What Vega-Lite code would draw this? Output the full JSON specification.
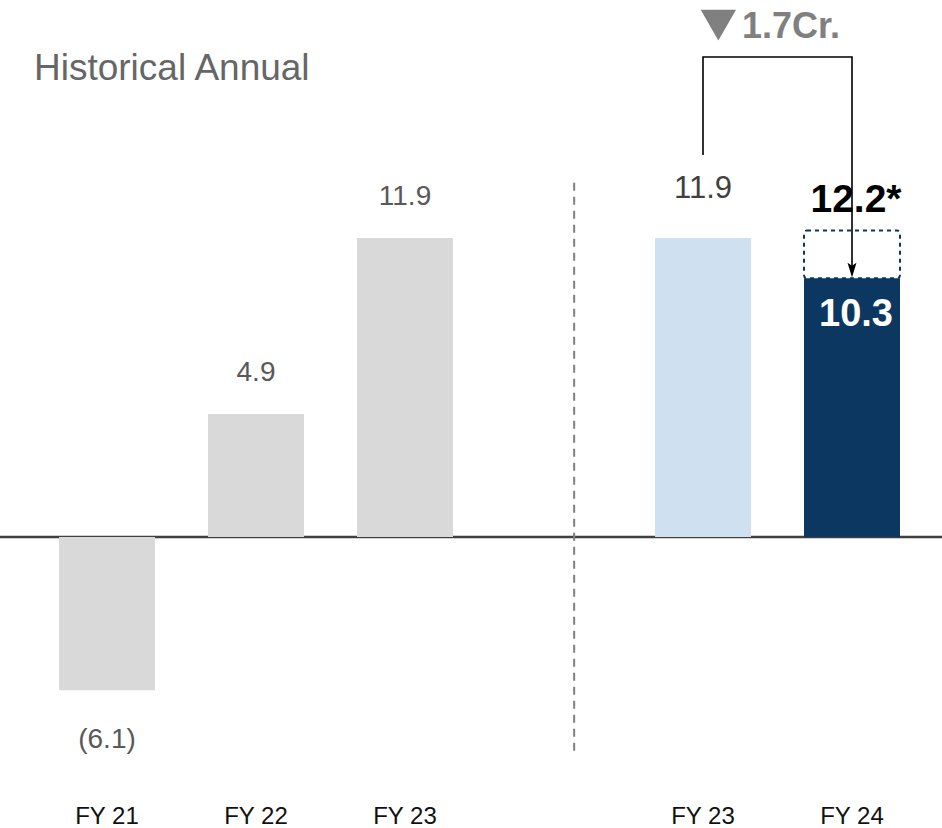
{
  "$schema": "https://vega.github.io/schema/vega-lite/v6.json",
  "width": 942,
  "height": 770,
  "autosize": {"type": "none"},
  "padding": {"left": 0, "right": 0, "top": 0, "bottom": 58},
  "background": "white",
  "config": {
    "view": {"stroke": null},
    "font": "Liberation Sans",
    "text": {"font": "Liberation Sans"}
  },
  "datasets": {
    "bars": [
      {"cat": "FY21", "value": -6.1, "kind": "hist"},
      {"cat": "FY22", "value": 4.9, "kind": "hist"},
      {"cat": "FY23a", "value": 11.9, "kind": "hist"},
      {"cat": "FY23b", "value": 11.9, "kind": "prior"},
      {"cat": "FY24", "value": 10.3, "kind": "current"}
    ],
    "labels": [
      {"cat": "FY21", "value": -6.1, "label": "(6.1)", "style": "neg"},
      {"cat": "FY22", "value": 4.9, "label": "4.9", "style": "hist"},
      {"cat": "FY23a", "value": 11.9, "label": "11.9", "style": "hist"},
      {"cat": "FY23b", "value": 11.9, "label": "11.9", "style": "prior"},
      {"cat": "FY24", "value": 12.2, "label": "12.2*", "style": "target"},
      {"cat": "FY24", "value": 10.3, "label": "10.3", "style": "inside"}
    ],
    "bracket": [
      {"cat": "FY23b", "y": 15.2, "seq": 1},
      {"cat": "FY23b", "y": 19.1, "seq": 2},
      {"cat": "FY24", "y": 19.1, "seq": 3},
      {"cat": "FY24", "y": 10.7, "seq": 4}
    ]
  },
  "encoding": {
    "x": {
      "field": "cat",
      "type": "nominal",
      "sort": null,
      "scale": {
        "type": "band",
        "domain": ["FY21", "FY22", "FY23a", "sep", "FY23b", "FY24"],
        "range": [59, 900],
        "paddingInner": 0.3557,
        "paddingOuter": 0
      },
      "axis": {
        "title": null,
        "domain": false,
        "ticks": false,
        "tickSize": 0,
        "grid": false,
        "labelAngle": 0,
        "labelFontSize": 24,
        "labelColor": "#111111",
        "labelFont": "Liberation Sans",
        "labelPadding": 34,
        "labelExpr": "datum.value == 'sep' ? '' : 'FY ' + substring(datum.value, 2, 4)"
      }
    }
  },
  "layer": [
    {
      "data": {"values": [{"v": 0}]},
      "mark": {"type": "rule", "color": "#404040", "strokeWidth": 2.5},
      "encoding": {
        "x": null,
        "y": {"field": "v", "type": "quantitative", "scale": {"domain": [-9.27, 21.37], "nice": false, "zero": false}, "axis": null}
      }
    },
    {
      "data": {"values": [{"cat": "sep", "y1": 14.1, "y2": -8.5}]},
      "mark": {"type": "rule", "color": "#808080", "strokeWidth": 2, "strokeDash": [8, 6]},
      "encoding": {
        "x": {"field": "cat", "type": "nominal", "bandPosition": 0.71},
        "y": {"field": "y1", "type": "quantitative"},
        "y2": {"field": "y2"}
      }
    },
    {
      "data": {"name": "bars"},
      "mark": {"type": "bar"},
      "encoding": {
        "y": {"field": "value", "type": "quantitative"},
        "color": {
          "field": "kind",
          "type": "nominal",
          "scale": {"domain": ["hist", "prior", "current"], "range": ["#d9d9d9", "#cfe0f1", "#0b3761"]},
          "legend": null
        }
      }
    },
    {
      "data": {"values": [{"cat": "FY24", "top": 12.2, "bottom": 10.3}]},
      "mark": {"type": "bar", "fillOpacity": 0, "stroke": "#0b3761", "strokeWidth": 2, "strokeDash": [4, 4], "cornerRadius": 3},
      "encoding": {
        "y": {"field": "top", "type": "quantitative"},
        "y2": {"field": "bottom"}
      }
    },
    {
      "data": {"name": "labels"},
      "transform": [{"filter": "datum.style == 'hist'"}],
      "mark": {"type": "text", "fontSize": 28, "color": "#595959", "baseline": "alphabetic", "dy": -33},
      "encoding": {
        "y": {"field": "value", "type": "quantitative"},
        "text": {"field": "label"}
      }
    },
    {
      "data": {"name": "labels"},
      "transform": [{"filter": "datum.style == 'neg'"}],
      "mark": {"type": "text", "fontSize": 28, "color": "#595959", "baseline": "alphabetic", "dy": 58},
      "encoding": {
        "y": {"field": "value", "type": "quantitative"},
        "text": {"field": "label"}
      }
    },
    {
      "data": {"name": "labels"},
      "transform": [{"filter": "datum.style == 'prior'"}],
      "mark": {"type": "text", "fontSize": 31, "color": "#404040", "baseline": "alphabetic", "dy": -40},
      "encoding": {
        "y": {"field": "value", "type": "quantitative"},
        "text": {"field": "label"}
      }
    },
    {
      "data": {"name": "labels"},
      "transform": [{"filter": "datum.style == 'target'"}],
      "mark": {"type": "text", "fontSize": 39, "fontWeight": "bold", "color": "#000000", "baseline": "alphabetic", "dy": -18, "dx": 4},
      "encoding": {
        "y": {"field": "value", "type": "quantitative"},
        "text": {"field": "label"}
      }
    },
    {
      "data": {"name": "labels"},
      "transform": [{"filter": "datum.style == 'inside'"}],
      "mark": {"type": "text", "fontSize": 38, "fontWeight": "bold", "color": "#ffffff", "baseline": "alphabetic", "dy": 48, "dx": 4},
      "encoding": {
        "y": {"field": "value", "type": "quantitative"},
        "text": {"field": "label"}
      }
    },
    {
      "data": {"name": "bracket"},
      "mark": {"type": "line", "color": "#000000", "strokeWidth": 1.6},
      "encoding": {
        "y": {"field": "y", "type": "quantitative"},
        "order": {"field": "seq", "type": "quantitative"}
      }
    },
    {
      "data": {"values": [{"cat": "FY24", "y": 10.62}]},
      "mark": {"type": "point", "shape": "M -0.6 -1 L 0 1 L 0.6 -1 L 0 -0.6 Z", "filled": true, "color": "#000000", "size": 220, "opacity": 1},
      "encoding": {
        "y": {"field": "y", "type": "quantitative"}
      }
    },
    {
      "data": {"values": [{"cat": "FY21", "y": 18.2, "label": "Historical Annual"}]},
      "mark": {"type": "text", "fontSize": 37, "color": "#666666", "align": "left", "baseline": "alphabetic", "dx": -25},
      "encoding": {
        "x": {"field": "cat", "type": "nominal", "bandPosition": 0},
        "y": {"field": "y", "type": "quantitative"},
        "text": {"field": "label"}
      }
    },
    {
      "data": {"values": [{"cat": "FY23b", "y": 20.37}]},
      "mark": {"type": "point", "shape": "triangle-down", "filled": true, "color": "#808080", "size": 1250, "opacity": 1},
      "encoding": {
        "x": {"field": "cat", "type": "nominal", "bandPosition": 0.66},
        "y": {"field": "y", "type": "quantitative"}
      }
    },
    {
      "data": {"values": [{"cat": "FY24", "y": 19.86, "label": "1.7Cr."}]},
      "mark": {"type": "text", "fontSize": 36, "fontWeight": "bold", "color": "#808080", "align": "left", "baseline": "alphabetic", "dx": -62},
      "encoding": {
        "x": {"field": "cat", "type": "nominal", "bandPosition": 0},
        "y": {"field": "y", "type": "quantitative"},
        "text": {"field": "label"}
      }
    }
  ]
}
